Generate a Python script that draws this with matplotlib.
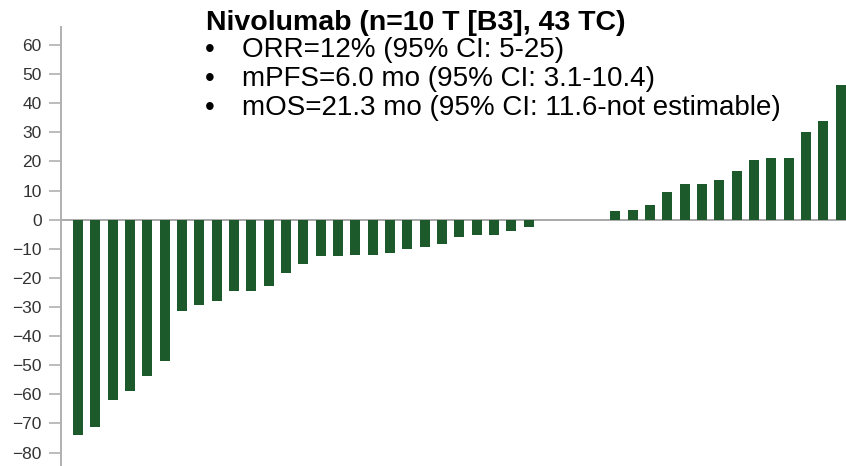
import matplotlib
matplotlib.use("Agg")
import matplotlib.pyplot as plt
import numpy as np

# best change from baseline (%) per patient, sorted from worst to best
shrinking = [-73.9, -71.1, -62.0, -58.8, -53.6, -48.4, -31.4, -29.3, -28.0,
             -24.5, -24.4, -22.9, -18.3, -15.2, -12.6, -12.4, -12.2, -12.1,
             -11.4, -9.9, -9.4, -8.5, -5.8, -5.3, -5.2, -3.8, -2.5]
unchanged = [0.0, 0.0, 0.0, 0.0]
growing = [3.0, 3.4, 5.2, 9.5, 12.1, 12.4, 13.5, 16.8, 20.6, 21.1, 21.2,
           30.1, 33.8, 46.3]
change = shrinking + unchanged + growing

yticks = list(range(-80, 70, 10))

title = "Nivolumab (n=10 T [B3], 43 TC)"
bullets = ["ORR=12% (95% CI: 5-25)",
           "mPFS=6.0 mo (95% CI: 3.1-10.4)",
           "mOS=21.3 mo (95% CI: 11.6-not estimable)"]

W, H = 846, 466
plt.rcParams['font.family'] = ['Liberation Sans', 'DejaVu Sans']

fig = plt.figure(figsize=(W / 100, H / 100), dpi=100)
ax = fig.add_axes([61 / W, 0, 1 - 61 / W, 1 - 27 / H])

x = np.arange(len(change))
ax.bar(x, change, width=0.58, color='#1c5a2b', zorder=3)
ax.axhline(0, color='#a8a8a8', lw=1.4, zorder=2)

ax.set_xlim(-0.98, 44.3)
ax.set_ylim(-84.6, 66.2)
ax.set_yticks(yticks)
ax.set_xticks([])
ax.tick_params(axis='y', length=9, width=1.2, color='#b0b0b0',
               labelsize=12.5, labelcolor='#333333', pad=5)
for side in ['top', 'right', 'bottom']:
    ax.spines[side].set_visible(False)
ax.spines['left'].set_color('#b0b0b0')
ax.spines['left'].set_linewidth(1.4)

# summary text block, positioned in pixels from the top-left corner
def px(xp, yp):
    return xp / W, 1 - yp / H

fig.text(*px(206, 30), title, fontsize=20.5, fontweight='bold',
         va='baseline', ha='left', color='black')
for i, line in enumerate(bullets):
    yb = 57 + i * 28.8
    fig.text(*px(205, yb), "\u2022", fontsize=20, va='baseline', ha='left')
    fig.text(*px(242, yb), line, fontsize=20, va='baseline', ha='left')

fig.savefig("out.png", dpi=100)
